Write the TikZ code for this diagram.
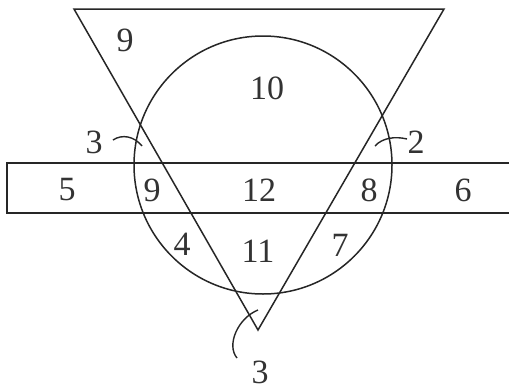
\documentclass[tikz,border=0pt]{standalone}
\usepackage{fontspec}
\setmainfont{Liberation Serif}
\begin{document}
\begin{tikzpicture}[x=1pt,y=-1pt,
  outline/.style={draw=black!85,line width=1.5pt},
  lbl/.style={inner sep=0pt,font=\fontsize{34}{38}\selectfont,text=black!80},
  lead/.style={draw=black!85,line width=1.4pt}]
\clip (0,0) rectangle (509,389);
\fill[white] (0,0) rectangle (509,389);
% rectangle
\draw[outline] (7,163) rectangle (512,213);
% circle
\draw[outline] (263,165) circle[radius=129];
% inverted triangle
\draw[outline,line join=miter] (74,9) -- (444,9) -- (258,330) -- cycle;
% labels
\node[lbl] (t9) at (125,40) {9};
\node[lbl] (c10) at (267,88) {10};
\node[lbl] (a3) at (94,142) {3};
\node[lbl] (a2) at (416,142) {2};
\node[lbl] (r5) at (67,190) {5};
\node[lbl] (r9) at (152,190) {9};
\node[lbl] (r12) at (259,190) {12};
\node[lbl] (r8) at (369,190) {8};
\node[lbl] (r6) at (463,190) {6};
\node[lbl] (b4) at (182,244) {4};
\node[lbl] (b11) at (258,251) {11};
\node[lbl] (b7) at (340,245) {7};
\node[lbl] (b3) at (260,372) {3};
% leader lines
\coordinate (p3s) at (113,140);
\coordinate (p3e) at (142,146);
\coordinate (p2s) at (375,146);
\coordinate (p2e) at (407,139);
\coordinate (pbs) at (258,310);
\coordinate (pbe) at (237,358);
\draw[lead] (p3s) .. controls (122,134) and (134,136) .. (p3e);
\draw[lead] (p2s) .. controls (382,138) and (395,136) .. (p2e);
\draw[lead] (pbs) .. controls (238,318) and (226,345) .. (pbe);
\end{tikzpicture}
\end{document}
